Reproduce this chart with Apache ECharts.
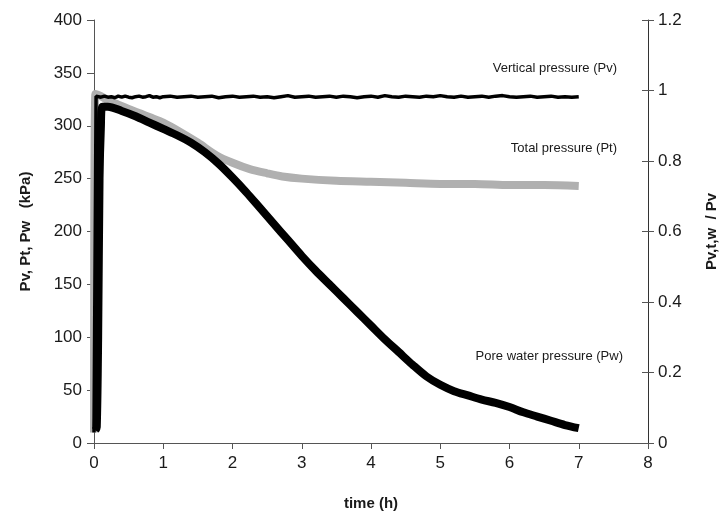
<!DOCTYPE html>
<html><head><meta charset="utf-8">
<script src="https://cdn.jsdelivr.net/npm/echarts@6/dist/echarts.min.js"></script>
<style>html,body{margin:0;padding:0;background:#fff}#c{width:723px;height:516px}</style>
</head><body><div id="c"></div>
<script>
// time (h) and pressures (kPa)
const pvTime = [0,0.03,0.1,0.15,0.2,0.25,0.3,0.35,0.4,0.45,0.5,0.55,0.6,0.65,0.7,0.75,0.8,0.85,0.9,0.95,1.0,1.1,1.2,1.3,1.4,1.5,1.6,1.7,1.8,1.9,2.0,2.1,2.2,2.3,2.4,2.5,2.6,2.7,2.8,2.9,3.0,3.1,3.2,3.3,3.4,3.5,3.6,3.7,3.8,3.9,4.0,4.1,4.2,4.3,4.4,4.5,4.6,4.7,4.8,4.9,5.0,5.1,5.2,5.3,5.4,5.5,5.6,5.7,5.8,5.9,6.0,6.1,6.2,6.3,6.4,6.5,6.6,6.7,6.8,6.9,7.0];
const pvValues = [10,328,327,328,327,327.5,326.5,328,327,328,327,326.5,327.5,328,327,327.5,328.5,327,327.5,326.5,327.5,328,327,327.5,328,327,327.5,328,326.5,327.5,328,327,327.5,328,327,327.5,326.5,327.5,328.5,327,327.5,328,327,327.5,328,327,328,327.5,326.5,327.5,328,327,328.5,327.5,327,328,327.5,327,328,327.5,328.5,327.5,327,328,327,327.5,328,327,328,328.5,327.5,327,327.5,328,327,327.5,328,327,327.5,327,327.5];

const ptTime = [0,0.02,0.1,0.2,0.35,0.5,0.65,0.81,1.0,1.25,1.5,1.77,2.0,2.25,2.5,2.72,3.0,3.5,4.0,4.5,5.0,5.5,6.0,6.5,7.0];
const ptValues = [10,330,328,324,320,316,312,308,303,294,284,272,265,259,255,252,250,248,247,246,245,245,244,244,243];

const pwTime = [0.02,0.04,0.06,0.08,0.1,0.12,0.2,0.4,0.6,0.8,1.0,1.2,1.4,1.6,1.8,2.0,2.2,2.4,2.6,2.8,3.0,3.2,3.4,3.6,3.8,4.0,4.2,4.4,4.6,4.8,5.0,5.2,5.4,5.6,5.8,6.0,6.2,6.4,6.6,6.8,7.0];
const pwValues = [12,15,100,250,300,318,318,314,309,303,297,291,284,275,264,251,237,222,207,192,177,163,150,137,124,111,98,86,74,63,55,49,45,41,38,34,29,25,21,17,14];

const xTicks = [0,1,2,3,4,5,6,7,8];
const leftTicks = [0,50,100,150,200,250,300,350,400];
const rightTicks = [0,0.2,0.4,0.6,0.8,1,1.2];

const labels = [
  {text:'Vertical pressure (Pv)'},
  {text:'Total pressure (Pt)'},
  {text:'Pore water pressure (Pw)'}
];

const zip = (a,b)=>a.map((t,i)=>[t,b[i]]);
const FONT = '"Liberation Sans", Arial, sans-serif';
const axisCol = '#555';
const labelStyle = {color:'#1a1a1a', fontSize:17, fontFamily:FONT};

const chart = echarts.init(document.getElementById('c'));
chart.setOption({
  animation:false,
  backgroundColor:'#fff',
  grid:{left:94, right:75, top:20, bottom:73, containLabel:false, outerBoundsMode:'none'},
  xAxis:{type:'value', min:xTicks[0], max:xTicks[xTicks.length-1], interval:1,
    name:'time (h)', nameLocation:'middle', nameGap:53,
    nameTextStyle:{fontSize:15, fontWeight:'bold', fontFamily:FONT, color:'#1a1a1a'},
    axisLine:{lineStyle:{color:axisCol, width:1}},
    axisTick:{show:true, length:6, lineStyle:{color:axisCol}},
    axisLabel:Object.assign({margin:12}, labelStyle),
    splitLine:{show:false}},
  yAxis:[
    {type:'value', min:leftTicks[0], max:leftTicks[leftTicks.length-1], interval:50, position:'left',
     name:'Pv, Pt, Pw   (kPa)', nameLocation:'middle', nameGap:61, nameRotate:90,
     nameTextStyle:{fontSize:15, fontWeight:'bold', fontFamily:FONT, color:'#1a1a1a'},
     axisLine:{show:true, lineStyle:{color:axisCol}},
     axisTick:{show:true, length:7, lineStyle:{color:axisCol}},
     axisLabel:Object.assign({margin:12}, labelStyle),
     splitLine:{show:false}},
    {type:'value', min:rightTicks[0], max:rightTicks[rightTicks.length-1], interval:0.2, position:'right',
     name:'Pv,t,w  / Pv', nameLocation:'middle', nameGap:56, nameRotate:90,
     nameTextStyle:{fontSize:15, fontWeight:'bold', fontFamily:FONT, color:'#1a1a1a'},
     axisLine:{show:true, lineStyle:{color:'#333'}},
     axisTick:{show:true, length:6, lineStyle:{color:axisCol}},
     axisLabel:Object.assign({margin:10, formatter:v=>String(+v.toFixed(1))}, labelStyle),
     splitLine:{show:false}},
    {type:'value', min:rightTicks[0], max:rightTicks[rightTicks.length-1], interval:0.2, position:'right',
     axisLine:{show:false}, axisTick:{show:true, inside:true, length:6, lineStyle:{color:axisCol}},
     axisLabel:{show:false}, splitLine:{show:false}}
  ],
  series:[
    {name:'Pt', type:'line', yAxisIndex:0, data:zip(ptTime,ptValues), showSymbol:false, smooth:0.3,
     lineStyle:{color:'#b0b0b0', width:8}, z:2},
    {name:'Pw', type:'line', yAxisIndex:0, data:zip(pwTime,pwValues), showSymbol:false, smooth:0.3,
     lineStyle:{color:'#000', width:8}, z:3},
    {name:'Pv', type:'line', yAxisIndex:0, data:zip(pvTime,pvValues), showSymbol:false,
     lineStyle:{color:'#000', width:3.5}, z:4}
  ],
  graphic:[
    {type:'text', right:106, top:62, style:{text:labels[0].text, font:'13px '+FONT, fill:'#1a1a1a'}},
    {type:'text', right:106, top:142, style:{text:labels[1].text, font:'13px '+FONT, fill:'#1a1a1a'}},
    {type:'text', right:100, top:350, style:{text:labels[2].text, font:'13px '+FONT, fill:'#1a1a1a'}}
  ]
});
</script></body></html>
